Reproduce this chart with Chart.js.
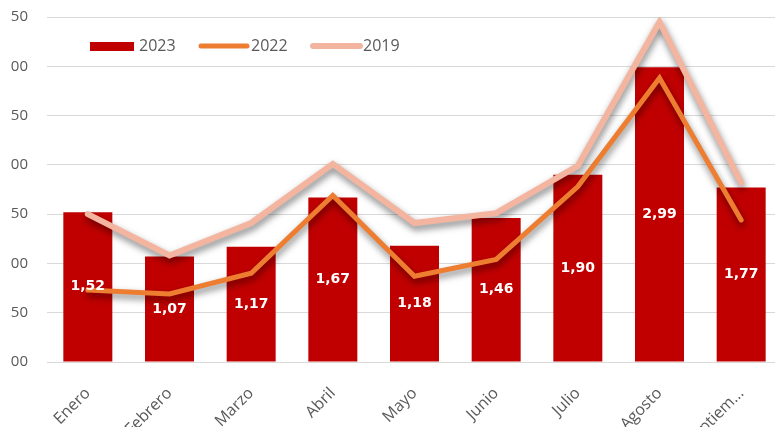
<!DOCTYPE html>
<html>
<head>
<meta charset="utf-8">
<script src="https://cdn.jsdelivr.net/npm/chart.js@4/dist/chart.umd.min.js"></script>
<style>
  html, body { margin: 0; padding: 0; background: #fff; }
  #frame { position: absolute; left: 11px; top: 0; width: 764px; height: 427px; overflow: hidden; }
  #wrap { position: absolute; left: -26px; top: -11px; width: 810px; height: 438px; }
</style>
</head>
<body>
<div id="frame"><div id="wrap"><canvas id="chart"></canvas></div></div>
<script>
// Data
const months = ["Enero", "Febrero", "Marzo", "Abril", "Mayo", "Junio", "Julio", "Agosto", "Septiem..."];
const values2023 = [1.52, 1.07, 1.17, 1.67, 1.18, 1.46, 1.90, 2.99, 1.77];
const values2022 = [0.73, 0.69, 0.90, 1.69, 0.87, 1.04, 1.78, 2.88, 1.44];
const values2019 = [1.50, 1.08, 1.41, 2.01, 1.41, 1.51, 1.99, 3.45, 1.82];
const yTicks = [0, 0.5, 1, 1.5, 2, 2.5, 3, 3.5];

const fmt = (v) => v.toFixed(2).replace(".", ",");

// Drop shadow under the lines
const lineShadow = {
  id: "lineShadow",
  beforeDatasetDraw(chart, args) {
    if (args.meta.type !== "line") return;
    const ctx = chart.ctx;
    ctx.save();
    ctx.shadowColor = "rgba(0,0,0,0.5)";
    ctx.shadowBlur = 7;
    ctx.shadowOffsetX = 1;
    ctx.shadowOffsetY = 4;
  },
  afterDatasetDraw(chart, args) {
    if (args.meta.type !== "line") return;
    chart.ctx.restore();
  },
};

// Value labels in the middle of the bars
const barLabels = {
  id: "barLabels",
  afterDatasetsDraw(chart) {
    const ctx = chart.ctx;
    const meta = chart.getDatasetMeta(0);
    ctx.save();
    ctx.font = "bold 14px 'DejaVu Sans'";
    ctx.fillStyle = "#ffffff";
    ctx.textAlign = "center";
    ctx.textBaseline = "middle";
    meta.data.forEach((bar, i) => {
      ctx.fillText(fmt(values2023[i]), bar.x, (bar.y + bar.base) / 2);
    });
    ctx.restore();
  },
};

// Legend inside the plot, top left
const legendInside = {
  id: "legendInside",
  afterDraw(chart) {
    const ctx = chart.ctx;
    const y = 57;
    ctx.save();
    ctx.font = "16px 'Open Sans'";
    ctx.textBaseline = "middle";
    // 2023
    ctx.fillStyle = "#C00000";
    ctx.fillRect(105, y - 4, 44, 9);
    ctx.fillStyle = "#595959";
    ctx.fillText("2023", 154, y);
    // 2022
    ctx.lineCap = "round";
    ctx.strokeStyle = "#ED7D31";
    ctx.lineWidth = 5;
    ctx.beginPath(); ctx.moveTo(216, y); ctx.lineTo(262, y); ctx.stroke();
    ctx.fillText("2022", 266, y);
    // 2019
    ctx.strokeStyle = "#F4B5A0";
    ctx.lineWidth = 6;
    ctx.beginPath(); ctx.moveTo(328, y); ctx.lineTo(375, y); ctx.stroke();
    ctx.fillText("2019", 378, y);
    ctx.restore();
  },
};

const ctx = document.getElementById("chart").getContext("2d");
new Chart(ctx, {
  data: {
    labels: months,
    datasets: [
      {
        type: "bar",
        label: "2023",
        data: values2023,
        backgroundColor: "#C00000",
        categoryPercentage: 1,
        barPercentage: 0.6,
        order: 3,
      },
      {
        type: "line",
        label: "2022",
        data: values2022,
        borderColor: "#ED7D31",
        borderWidth: 5,
        pointRadius: 0,
        tension: 0,
        borderCapStyle: "round",
        borderJoinStyle: "miter",
        order: 2,
      },
      {
        type: "line",
        label: "2019",
        data: values2019,
        borderColor: "#F4B5A0",
        borderWidth: 6,
        pointRadius: 0,
        tension: 0,
        borderCapStyle: "round",
        borderJoinStyle: "miter",
        order: 1,
      },
    ],
  },
  options: {
    responsive: true,
    maintainAspectRatio: false,
    animation: false,
    layout: { padding: { top: 5, right: 13, left: 0, bottom: 0 } },
    plugins: {
      legend: { display: false },
      tooltip: { enabled: false },
    },
    scales: {
      x: {
        grid: { display: false, drawTicks: false },
        border: { color: "#D9D9D9", width: 1 },
        ticks: {
          color: "#595959",
          font: { family: "Open Sans", size: 16 },
          minRotation: 45,
          maxRotation: 45,
          padding: 22,
        },
        afterFit(scale) { scale.height = 65; },
      },
      y: {
        min: 0,
        max: 3.5,
        afterBuildTicks(scale) { scale.ticks = yTicks.map((v) => ({ value: v })); },
        grid: { color: "#D9D9D9", lineWidth: 1, drawTicks: false },
        border: { display: false },
        ticks: {
          color: "#595959",
          font: { family: "Open Sans", size: 15 },
          padding: 19,
          callback: (v) => fmt(v),
        },
        afterFit(scale) { scale.width = 62; },
      },
    },
  },
  plugins: [lineShadow, barLabels, legendInside],
});
</script>
</body>
</html>
